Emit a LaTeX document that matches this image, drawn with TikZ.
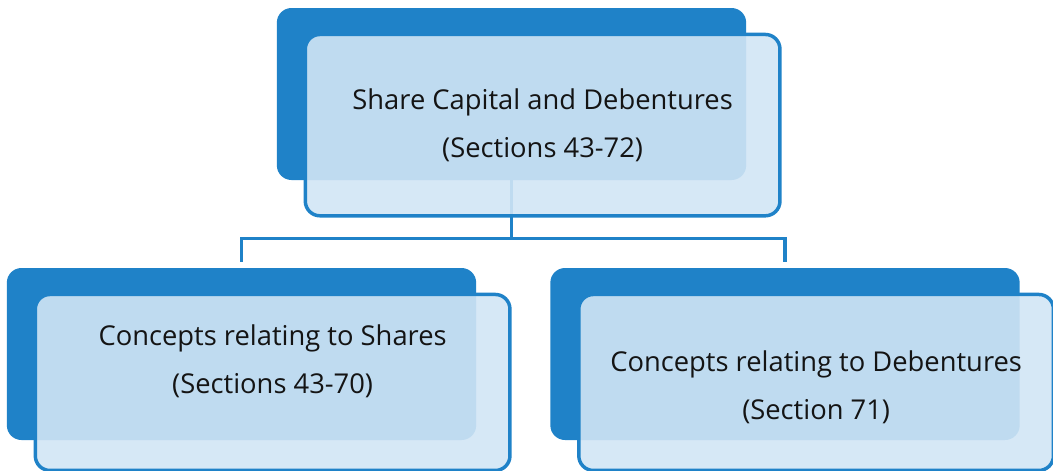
\documentclass[tikz,border=0pt]{standalone}
\usepackage{fontspec}
\setmainfont{Open Sans}
\usepackage{tikz}
\usetikzlibrary{positioning}

\definecolor{darkblue}{RGB}{31,130,200}
\definecolor{paleblue}{RGB}{209,229,245}
\definecolor{inktext}{RGB}{20,20,20}

\tikzset{
    backbox/.style = {rectangle, rounded corners=11pt, fill=darkblue, inner sep=0pt,
                      minimum width=352pt, minimum height=129pt},
    frontbox/.style = {rectangle, rounded corners=11pt, draw=darkblue, line width=2.6pt,
                       fill=paleblue, fill opacity=0.9, inner sep=0pt,
                       minimum width=356pt, anchor=north west},
    boxtext/.style = {align=center, text=inktext, font=\fontsize{20.5}{36}\selectfont},
    conn/.style = {draw=darkblue, line width=2.6pt}
}

\begin{document}
\begin{tikzpicture}[x=0.75pt, y=-0.75pt]
        \useasboundingbox (0,0) rectangle (1053,471);
        % back plates
        \node [backbox] (topback) at (511.5,94) {};
        \node [backbox] (leftback) at (241.5,354) {};
        \node [backbox] (rightback) at (785,354) {};
        % connectors
        \draw [conn] (topback.south) -- ++(0,58) coordinate (hub);
        \draw [conn] (hub) -| ([shift={(0,-6)}]leftback.north);
        \draw [conn] (hub) -| ([shift={(0,-6)}]rightback.north);
        % front plates
        \node [frontbox, minimum height=136pt] (top) at ([shift={(27,25)}]topback.north west) {};
        \node [frontbox, minimum height=132pt] (left) at ([shift={(27,25)}]leftback.north west) {};
        \node [frontbox, minimum height=132pt] (right) at ([shift={(27,25)}]rightback.north west) {};
        % labels
        \node [boxtext] (toptext) at (top) {Share Capital and Debentures\\(Sections 43-72)};
        \node [boxtext, yshift=16pt] (lefttext) at (left) {Concepts relating to Shares\\(Sections 43-70)};
        \node [boxtext, yshift=-3.5pt] (righttext) at (right) {Concepts relating to Debentures\\(Section 71)};
\end{tikzpicture}
\end{document}
